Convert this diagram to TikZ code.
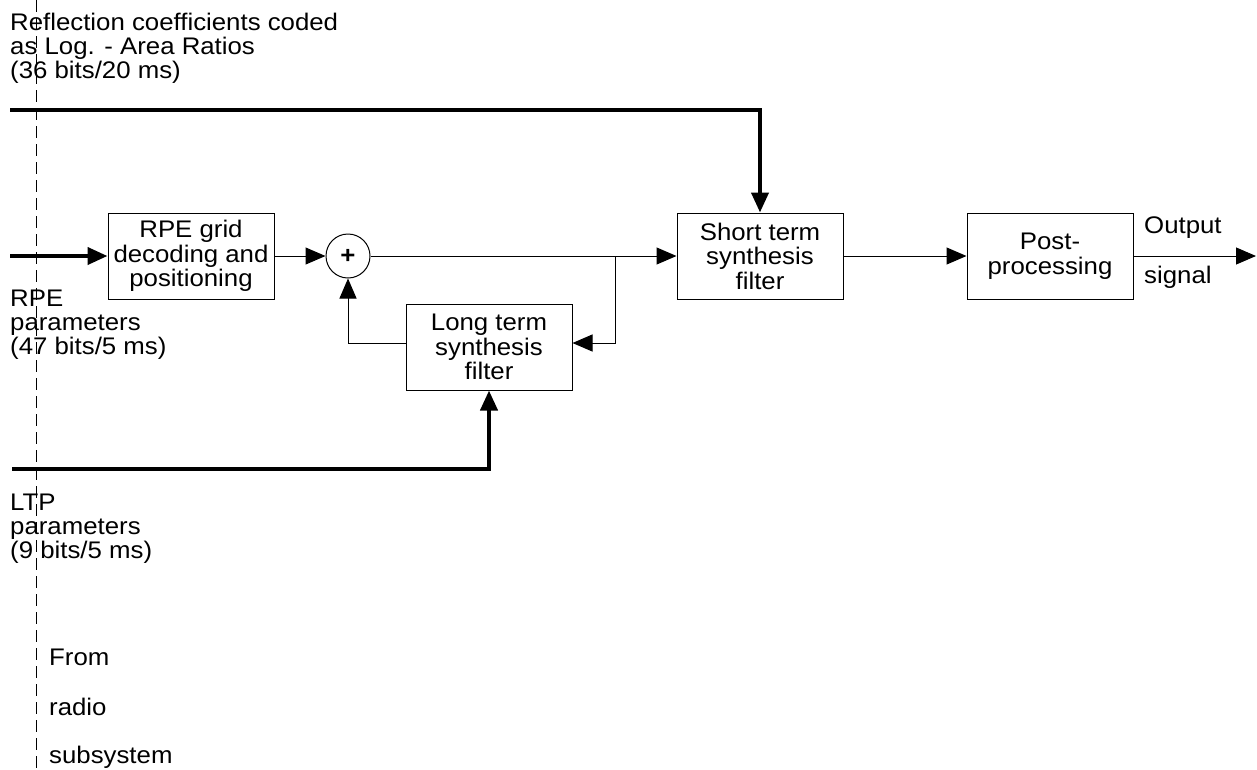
\documentclass[tikz,border=0pt]{standalone}
\usepackage{fontspec}
\setmainfont{Liberation Sans}[FakeStretch=1.075]
\usetikzlibrary{arrows.meta}
\begin{document}
\begin{tikzpicture}[x=1pt,y=-1pt,
  txt/.style={anchor=base west,inner sep=0pt,font=\fontsize{24}{24}\selectfont},
  blk/.style={draw,line width=1pt,minimum width=166pt,minimum height=86pt,inner sep=0pt,align=center,font=\fontsize{24}{24.5}\selectfont},
  thin/.style={line width=1pt},
  thick/.style={line width=4pt},
  tri/.style={-{Triangle[length=20pt,width=17pt]}},
  dsh/.style={line width=0.9pt,dash pattern=on 12pt off 6pt}]
\useasboundingbox (0,0) rectangle (1257,769);
% dashed boundary
\coordinate (dtop) at (36,0);
\coordinate (dbot) at (36,769);
\draw[dsh] (dtop) -- (dbot);
% blocks
\node[blk] (rpe) at (191,256) {RPE grid\\decoding and\\positioning};
\node[draw,circle,line width=1pt,minimum size=44pt,inner sep=0pt,font=\fontsize{24}{24}\selectfont\bfseries] (sum) at (348,256) {+};
\node[blk] (short) at (760,256) {Short term\\synthesis\\filter};
\node[blk] (long) at (489,347) {Long term\\synthesis\\filter};
\node[blk] (post) at (1050,256) {Post-\\processing};
% coordinates
\coordinate (ti) at (10,110);
\coordinate (ri) at (10,256);
\coordinate (li) at (12,469);
\coordinate (j) at (615,256);
\coordinate (out) at (1256,256);
% connectors
\draw[thick,tri] (ti) -| (short.north);
\draw[thick,tri] (ri) -- (rpe.west);
\draw[thick,tri] (li) -| (long.south);
\draw[thin,tri] (rpe.east) -- (sum.west);
\draw[thin,tri] (sum.east) -- (short.west);
\draw[thin,tri] (j) |- ([yshift=4pt]long.east);
\draw[thin,tri] ([yshift=4pt]long.west) -| (sum.south);
\draw[thin,tri] (short.east) -- (post.west);
\draw[thin,tri] (post.east) -- (out);
% labels
\node[txt] (r1) at (10,30) {Reflection coefficients coded};
\node[txt] (r2) at (10,54) {as Log. - Area Ratios};
\node[txt] (r3) at (10,78) {(36 bits/20 ms)};
\node[txt] (p1) at (10,306) {RPE};
\node[txt] (p2) at (10,330) {parameters};
\node[txt] (p3) at (10,354) {(47 bits/5 ms)};
\node[txt] (l1) at (10,510) {LTP};
\node[txt] (l2) at (10,534) {parameters};
\node[txt] (l3) at (10,558) {(9 bits/5 ms)};
\node[txt] (f1) at (49,665) {From};
\node[txt] (f2) at (49,715) {radio};
\node[txt] (f3) at (49,763) {subsystem};
\node[txt] (o1) at (1144,233) {Output};
\node[txt] (o2) at (1144,283) {signal};
\end{tikzpicture}
\end{document}
